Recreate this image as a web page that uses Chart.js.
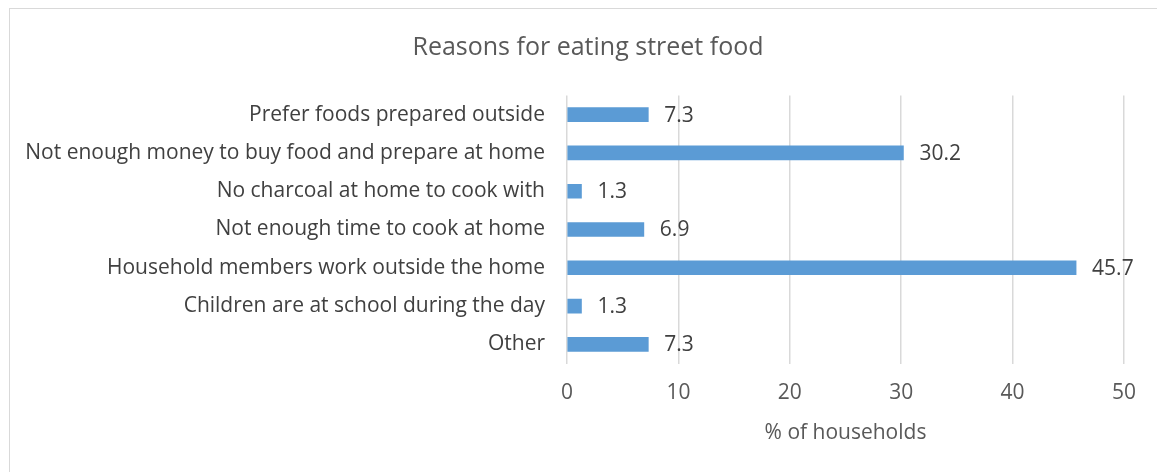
<!DOCTYPE html>
<html lang="en">
<head>
    <meta charset="UTF-8">
    <title>Reasons for eating street food</title>
    <script src="https://cdn.jsdelivr.net/npm/chart.js"></script>
    <style>
        body {
            margin: 0;
            padding: 0;
            background: #fff;
            overflow: hidden;
            font-family: "Open Sans", sans-serif;
        }
        .frame {
            position: absolute;
            left: 9px;
            top: 8px;
            width: 1160px;
            height: 480px;
            border: 1.5px solid #d9d9d9;
        }
        .chart-box {
            position: absolute;
            left: 0;
            top: 1px;
            width: 1156px;
            height: 462px;
        }
    </style>
</head>
<body>
    <div class="frame">
        <div class="chart-box">
            <canvas id="streetFood"></canvas>
        </div>
    </div>

    <script>
        // Survey answers, top to bottom
        const reasons = [
            'Prefer foods prepared outside',
            'Not enough money to buy food and prepare at home',
            'No charcoal at home to cook with',
            'Not enough time to cook at home',
            'Household members work outside the home',
            'Children are at school during the day',
            'Other'
        ];
        const shares = [7.3, 30.2, 1.3, 6.9, 45.7, 1.3, 7.3];
        const xTicks = [0, 10, 20, 30, 40, 50];
        const heading = 'Reasons for eating street food';

        const labelFont = { family: 'Open Sans', size: 21 };

        // heading centred on the whole canvas, not on the plot box
        const centredHeading = {
            id: 'centredHeading',
            afterDraw(chart) {
                const ctx = chart.ctx;
                ctx.save();
                ctx.font = '25px "Open Sans"';
                ctx.fillStyle = '#595959';
                ctx.textAlign = 'center';
                ctx.textBaseline = 'middle';
                ctx.fillText(heading, chart.width / 2, 38);
                ctx.restore();
            }
        };

        // writes the value just past the end of each bar
        const valueLabels = {
            id: 'valueLabels',
            afterDatasetsDraw(chart) {
                const ctx = chart.ctx;
                const meta = chart.getDatasetMeta(0);
                ctx.save();
                ctx.font = '21px "Open Sans"';
                ctx.fillStyle = '#404040';
                ctx.textAlign = 'left';
                ctx.textBaseline = 'middle';
                meta.data.forEach((bar, i) => {
                    ctx.fillText(shares[i].toFixed(1), bar.x + 16, bar.y + 1);
                });
                ctx.restore();
            }
        };

        new Chart(document.getElementById('streetFood'), {
            type: 'bar',
            data: {
                labels: reasons,
                datasets: [{
                    data: shares,
                    backgroundColor: '#5b9bd5',
                    barThickness: 14
                }]
            },
            options: {
                indexAxis: 'y',
                responsive: true,
                maintainAspectRatio: false,
                animation: false,
                layout: { padding: { left: 0, right: 42, top: 85.5, bottom: 0 } },
                plugins: {
                    legend: { display: false },
                    tooltip: { enabled: false },
                    title: { display: false }
                },
                scales: {
                    x: {
                        min: 0,
                        max: 50,
                        afterBuildTicks(scale) {
                            scale.ticks = xTicks.map(v => ({ value: v }));
                        },
                        afterFit(scale) { scale.height = 108.5; },
                        grid: { color: '#d9d9d9', lineWidth: 1.5, drawTicks: false },
                        border: { display: false },
                        ticks: {
                            color: '#595959',
                            padding: 17,
                            font: labelFont
                        },
                        title: {
                            display: true,
                            text: '% of households',
                            color: '#595959',
                            font: labelFont,
                            padding: { top: 0, bottom: 26 }
                        }
                    },
                    y: {
                        afterFit(scale) { scale.width = 557; },
                        grid: { display: false, drawTicks: false },
                        border: { display: false },
                        ticks: {
                            autoSkip: false,
                            color: '#404040',
                            padding: 22,
                            font: labelFont
                        }
                    }
                }
            },
            plugins: [valueLabels, centredHeading]
        });
    </script>
</body>
</html>
